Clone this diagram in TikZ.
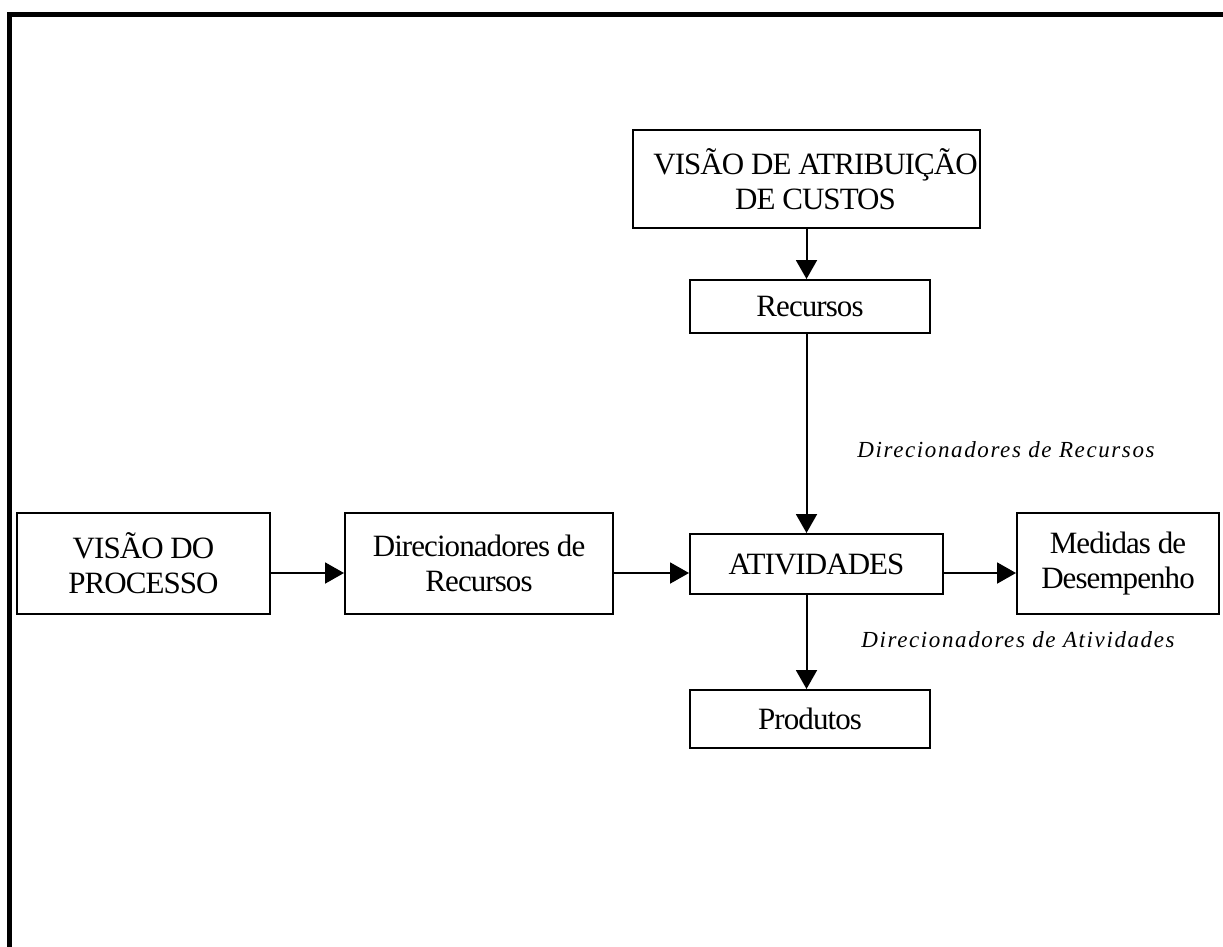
\documentclass[tikz,border=0pt]{standalone}
\usepackage{fontspec}
\setmainfont{Liberation Serif}
\usetikzlibrary{arrows.meta}
\begin{document}
\begin{tikzpicture}[x=1pt,y=-1pt,
  box/.style={draw,line width=2pt,rectangle,align=center,inner sep=0pt,font=\fontsize{31}{35}\selectfont\addfontfeatures{LetterSpace=-3}},
  arr/.style={line width=2pt,-{Triangle[length=19pt,width=21pt]}},
  lbl/.style={font=\fontsize{23}{27}\selectfont\itshape\addfontfeatures{LetterSpace=7}},
  frame/.style={line width=5pt,line join=miter}]
\useasboundingbox (0,0) rectangle (1223,946);
\draw[frame] (1230,14.5) -- (9.5,14.5) -- (9.5,960);
\node[box,minimum width=347pt,minimum height=98pt] (vac) at (806.5,179) {\hspace*{18pt}VISÃO DE ATRIBUIÇÃO\\\hspace*{18pt}DE CUSTOS};
\node[box,minimum width=240pt,minimum height=53pt] (rec) at (810,306.5) {Recursos};
\node[box,minimum width=253pt,minimum height=60pt] (ativ) at (816.5,564) {ATIVIDADES};
\node[box,minimum width=202pt,minimum height=101pt] (med) at (1118,563.5) {Medidas de\\Desempenho};
\node[box,minimum width=253pt,minimum height=101pt] (vdp) at (143.5,563.5) {VISÃO DO\\PROCESSO};
\node[box,minimum width=268pt,minimum height=101pt] (dir) at (479,563.5) {Direcionadores de\\Recursos};
\node[box,minimum width=240pt,minimum height=58pt] (prod) at (810,719) {Produtos};
\node[lbl] (l1) at (1006,450) {Direcionadores de Recursos};
\node[lbl] (l2) at (1018,640) {Direcionadores de Atividades};
\draw[arr] (vac.south) -- (vac.south |- rec.north);
\draw[arr] (rec.south -| vac.south) -- (vac.south |- ativ.north);
\draw[arr] (ativ.south -| vac.south) -- (vac.south |- prod.north);
\draw[arr] ([yshift=-9.5pt]vdp.east) -- ([yshift=-9.5pt]dir.west);
\draw[arr] ([yshift=-9.5pt]dir.east) -- ([yshift=-9.5pt]dir.east -| ativ.west);
\draw[arr] ([yshift=-9pt]ativ.east) -- ([yshift=-9pt]ativ.east -| med.west);
\end{tikzpicture}
\end{document}
